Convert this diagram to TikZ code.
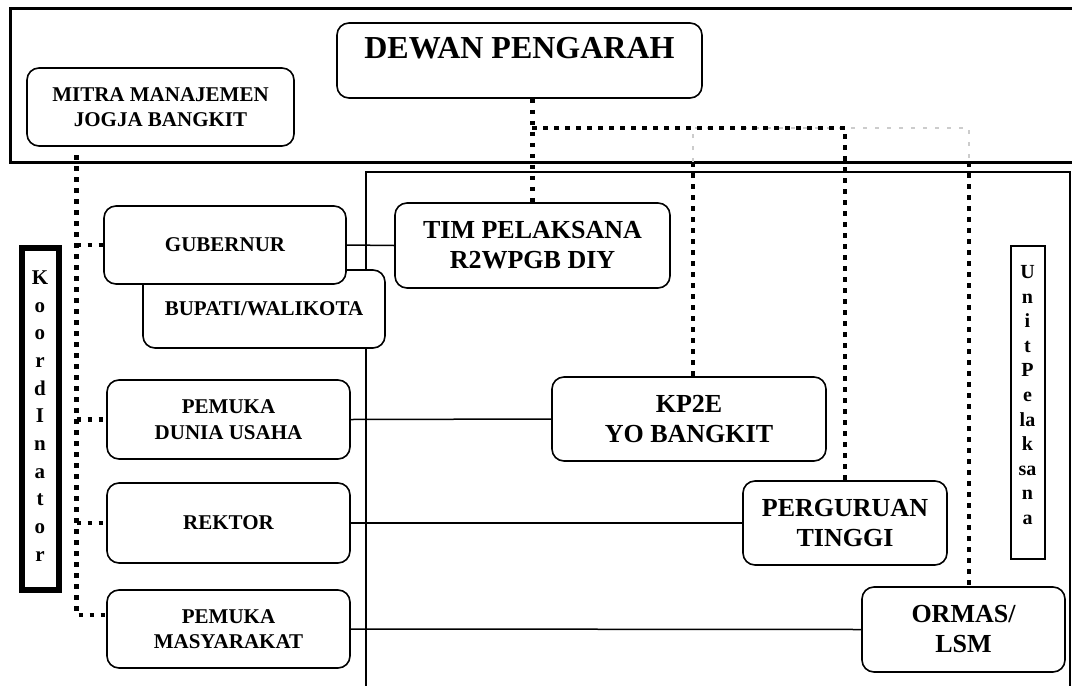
\documentclass[tikz,border=0pt]{standalone}
\usepackage{fontspec}
\setmainfont{Liberation Serif}
\usepackage{tikz}
\tikzset{
	kotak/.style={draw,rounded corners=12pt,line width=1.6pt,fill=white,align=center,inner sep=0pt},
	kecil/.style={font=\fontsize{21}{25.5}\selectfont\bfseries},
	besar/.style={font=\fontsize{26}{30}\selectfont\bfseries},
	titik/.style={line width=4.5pt,dash pattern=on 4.5pt off 6.5pt},
	titikabu/.style={gray!40,line width=2.5pt,dash pattern=on 4pt off 8pt},
	garis/.style={line width=1.5pt},
}

\begin{document}
\begin{tikzpicture}[x=1pt,y=-1pt]
	\useasboundingbox (0,0) rectangle (1072,686);
	% bingkai atas dan bawah
	\draw[line width=3pt] (10,8) rectangle (1080,162);
	\draw[line width=1.8pt] (366,172) rectangle (1070,700);

	\node[kotak,minimum width=365pt,minimum height=75pt] (dewan) at (519.5,60.5) {};
	\node[font=\fontsize{32}{36}\selectfont\bfseries] (dewantks) at (519.5,48) {DEWAN PENGARAH};
	\node[kotak,kecil,minimum width=267pt,minimum height=78pt] (mitra) at (160.5,107) {MITRA MANAJEMEN\\JOGJA BANGKIT};

	\node[kotak,kecil,minimum width=242pt,minimum height=78pt] (bupati) at (264,309) {BUPATI/WALIKOTA};
	\node[kotak,kecil,minimum width=242pt,minimum height=78pt] (gub) at (225,245) {GUBERNUR};
	\node[kotak,kecil,minimum width=243pt,minimum height=79pt] (pdu) at (228.5,419.5) {PEMUKA\\DUNIA USAHA};
	\node[kotak,kecil,minimum width=243pt,minimum height=80pt] (rektor) at (228.5,523) {REKTOR};
	\node[kotak,kecil,minimum width=243pt,minimum height=78pt] (pmasy) at (228.5,629) {PEMUKA\\MASYARAKAT};

	\node[kotak,besar,minimum width=275pt,minimum height=85pt] (tim) at (532.5,245.5) {TIM PELAKSANA\\R2WPGB DIY};
	\node[kotak,besar,minimum width=274pt,minimum height=84pt] (kp2e) at (689,419) {KP2E\\YO BANGKIT};
	\node[kotak,besar,minimum width=204pt,minimum height=84pt] (pt) at (845,523) {PERGURUAN\\TINGGI};
	\node[kotak,besar,minimum width=203pt,minimum height=85pt] (ormas) at (963.5,629.5) {ORMAS/\\LSM};

	% kotak tegak
	\node[draw,line width=6pt,minimum width=37pt,minimum height=342pt,inner sep=0pt] (koord) at (40,419) {};
	\node[align=center,font=\fontsize{21}{27.7}\selectfont\bfseries] (koordtks) at (40,416) {K\\o\\o\\r\\d\\I\\n\\a\\t\\o\\r};
	\node[draw,line width=2pt,minimum width=34pt,minimum height=313pt,inner sep=0pt] (unit) at (1027.5,402.5) {};
	\node[align=center,font=\fontsize{20}{24.6}\selectfont\bfseries] (unittks) at (1027.5,395) {U\\n\\i\\t\\P\\e\\la\\k\\sa\\n\\a};

	% garis lurus
	\draw[garis] (gub.east) -- (tim.west);
	\draw[garis] (pdu.east) -- (kp2e.west);
	\draw[garis] (rektor.east) -- (pt.west);
	\draw[garis] (pmasy.east) -- (ormas.west);

	% garis titik
	\coordinate (mkaki) at (76.5,155);
	\coordinate (simpang) at (532,128);
	\coordinate (s1) at (693,162);
	\coordinate (s2) at (969,162);
	\draw[titik] (mkaki) |- ([yshift=14pt]pmasy.west);
	\foreach \n in {gub,pdu,rektor}
		\draw[titik] (mkaki |- \n.west) -- (\n.west);
	\draw[titikabu] (s1) -- ++(0,-34) -| (s2);
	\draw[titik] (dewan.south -| tim.north) -- (tim.north);
	\draw[titik] (simpang) -| (pt.north);
	\draw[titik] (s1) -- (s1 |- kp2e.north);
	\draw[titik] (s2) -- (s2 |- ormas.north);
\end{tikzpicture}
\end{document}
